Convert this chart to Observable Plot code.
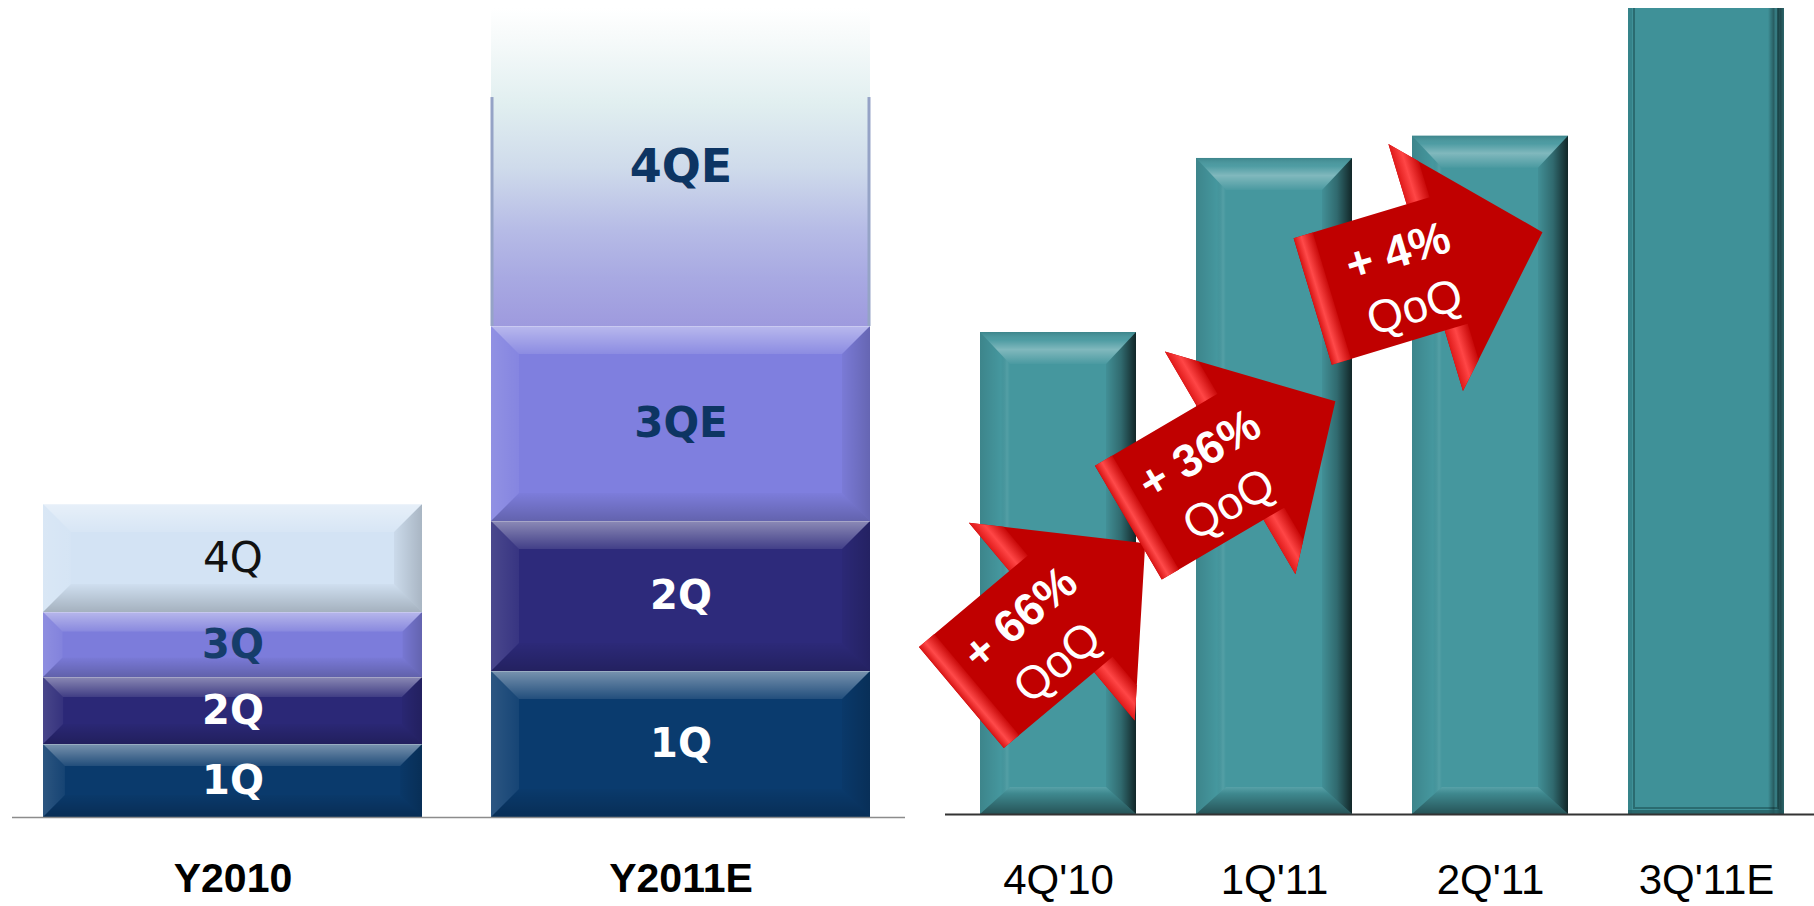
<!DOCTYPE html>
<html>
<head>
<meta charset="utf-8">
<script src="https://cdn.jsdelivr.net/npm/d3@7"></script>
<script src="https://cdn.jsdelivr.net/npm/@observablehq/plot@0.6"></script>
<style>
html, body { margin: 0; padding: 0; background: #fff; }
#wrap { position: relative; width: 1814px; height: 906px; overflow: hidden; }
#left { position: absolute; left: 0; top: 0; }
#right { position: absolute; left: 908px; top: 0; }
</style>
</head>
<body>
<svg width="0" height="0" style="position:absolute">
  <defs>
    <linearGradient id="fade4qe" x1="0" y1="0" x2="0" y2="1">
      <stop offset="0" stop-color="#ffffff"/>
      <stop offset="0.1" stop-color="#f6fafa"/>
      <stop offset="0.3" stop-color="#e1eff0"/>
      <stop offset="0.5" stop-color="#cfdbeb"/>
      <stop offset="0.7" stop-color="#b6bbe6"/>
      <stop offset="0.85" stop-color="#a8a9e2"/>
      <stop offset="1" stop-color="#9e9ade"/>
    </linearGradient>
    <linearGradient id="b-top" x1="0" y1="0" x2="0" y2="1">
      <stop offset="0" stop-color="#fff" stop-opacity="0.45"/>
      <stop offset="1" stop-color="#fff" stop-opacity="0.1"/>
    </linearGradient>
    <linearGradient id="b-bottom" x1="0" y1="0" x2="0" y2="1">
      <stop offset="0" stop-color="#000" stop-opacity="0.02"/>
      <stop offset="1" stop-color="#000" stop-opacity="0.22"/>
    </linearGradient>
    <linearGradient id="b-left" x1="0" y1="0" x2="1" y2="0">
      <stop offset="0" stop-color="#fff" stop-opacity="0.14"/>
      <stop offset="1" stop-color="#fff" stop-opacity="0.05"/>
    </linearGradient>
    <linearGradient id="b-right" x1="0" y1="0" x2="1" y2="0">
      <stop offset="0" stop-color="#000" stop-opacity="0.04"/>
      <stop offset="1" stop-color="#000" stop-opacity="0.2"/>
    </linearGradient>
    <linearGradient id="t-top" x1="0" y1="0" x2="0" y2="1">
      <stop offset="0" stop-color="#000" stop-opacity="0.12"/>
      <stop offset="0.25" stop-color="#fff" stop-opacity="0.05"/>
      <stop offset="0.55" stop-color="#fff" stop-opacity="0.32"/>
      <stop offset="1" stop-color="#fff" stop-opacity="0.03"/>
    </linearGradient>
    <linearGradient id="t-right" x1="0" y1="0" x2="1" y2="0">
      <stop offset="0" stop-color="#000" stop-opacity="0.05"/>
      <stop offset="0.5" stop-color="#000" stop-opacity="0.3"/>
      <stop offset="1" stop-color="#000" stop-opacity="0.75"/>
    </linearGradient>
    <linearGradient id="t-left" x1="0" y1="0" x2="1" y2="0">
      <stop offset="0" stop-color="#000" stop-opacity="0.12"/>
      <stop offset="0.7" stop-color="#000" stop-opacity="0"/>
      <stop offset="0.9" stop-color="#fff" stop-opacity="0.08"/>
      <stop offset="1" stop-color="#fff" stop-opacity="0"/>
    </linearGradient>
    <linearGradient id="t-bottom" x1="0" y1="0" x2="0" y2="1">
      <stop offset="0" stop-color="#fff" stop-opacity="0.1"/>
      <stop offset="0.25" stop-color="#000" stop-opacity="0.1"/>
      <stop offset="1" stop-color="#000" stop-opacity="0.45"/>
    </linearGradient>
    <linearGradient id="t-edge" x1="0" y1="0" x2="1" y2="0">
      <stop offset="0" stop-color="#000" stop-opacity="0"/>
      <stop offset="0.35" stop-color="#000" stop-opacity="0.35"/>
      <stop offset="0.5" stop-color="#000" stop-opacity="0.1"/>
      <stop offset="0.75" stop-color="#000" stop-opacity="0.5"/>
      <stop offset="1" stop-color="#000" stop-opacity="0.3"/>
    </linearGradient>
    <linearGradient id="a-tail" gradientUnits="userSpaceOnUse" x1="-120" y1="0" x2="-98" y2="0">
      <stop offset="0" stop-color="#d81414"/>
      <stop offset="0.35" stop-color="#ff4a4a"/>
      <stop offset="1" stop-color="#c00000"/>
    </linearGradient>
    <linearGradient id="a-head" gradientUnits="userSpaceOnUse" x1="-2" y1="0" x2="24" y2="0">
      <stop offset="0" stop-color="#e01a1a"/>
      <stop offset="0.4" stop-color="#ff4646"/>
      <stop offset="1" stop-color="#c00000"/>
    </linearGradient>
  </defs>
</svg>
<div id="wrap"><div id="left"></div><div id="right"></div></div>
<script>
// ---------- data ----------
const yearCats = ["Y2010", "Y2011E"];
const quarterNames2010 = ["1Q", "2Q", "3Q", "4Q"];
const quarterNames2011 = ["1Q", "2Q", "3QE", "4QE"];
const values2010 = [73, 67, 65, 108];
const values2011 = [146, 150, 195, 318];

const quarterCats = ["4Q'10", "1Q'11", "2Q'11", "3Q'11E"];
const quarterValues = [108, 147, 152, 195];

const qoqTargets = ["4Q'10", "1Q'11", "2Q'11"];
const qoqPct = ["+ 66%", "+ 36%", "+ 4%"];
const qoqSub = ["QoQ", "QoQ", "QoQ"];

// ---------- styles ----------
const segFill = {
  Y2010: ["#0a3a6c", "#2b2877", "#7c7cdb", "#d3e3f4"],
  Y2011E: ["#0a3b6e", "#2d2a7b", "#7f7fdf", "url(#fade4qe)"]
};
const segText = {
  Y2010: ["#ffffff", "#ffffff", "#163d6b", "#111111"],
  Y2011E: ["#ffffff", "#ffffff", "#0d3563", "#0d3563"]
};
const segBold = { Y2010: [true, true, true, false], Y2011E: [true, true, true, true] };
const segFont = { Y2010: [40, 40, 40, 42], Y2011E: [40, 40, 42, 46] };
const segBevel = { Y2010: [true, true, true, true], Y2011E: [true, true, true, false] };
const quarterFill = ["#45979e", "#45979e", "#45979e", "#3f9198"];
const quarterStyle = ["bevel", "bevel", "bevel", "frame"];
const arrowLayout = [
  { angle: -40, fx: 0.47, y: 43.4 },
  { angle: -30.4, fx: 0.23, y: 78.9 },
  { angle: -16.8, fx: 0.10, y: 122.6 }
];

// ---------- derived tables ----------
const leftRows = [];
yearCats.forEach((yr, i) => {
  const vals = i === 0 ? values2010 : values2011;
  const names = i === 0 ? quarterNames2010 : quarterNames2011;
  let acc = 0;
  vals.forEach((v, j) => {
    leftRows.push({
      year: yr, label: names[j], y0: acc, y1: acc + v, mid: acc + v / 2,
      fill: segFill[yr][j], text: segText[yr][j], bold: segBold[yr][j],
      size: segFont[yr][j], bevel: segBevel[yr][j]
    });
    acc += v;
  });
});
const rightRows = quarterCats.map((q, i) => ({ q, v: quarterValues[i], fill: quarterFill[i], style: quarterStyle[i] }));

// ---------- helpers ----------
function poly(g, pts, fill) {
  g.append("polygon").attr("points", pts.map(p => p.join(",")).join(" ")).attr("fill", fill);
}
function drawBevel(g, x0, y0, x1, y1, bt, bs, bb, p) {
  poly(g, [[x0, y0], [x0 + bs, y0 + bt], [x0 + bs, y1 - bb], [x0, y1]], `url(#${p}-left)`);
  poly(g, [[x1, y0], [x1 - bs, y0 + bt], [x1 - bs, y1 - bb], [x1, y1]], `url(#${p}-right)`);
  poly(g, [[x0, y0], [x1, y0], [x1 - bs, y0 + bt], [x0 + bs, y0 + bt]], `url(#${p}-top)`);
  poly(g, [[x0, y1], [x1, y1], [x1 - bs, y1 - bb], [x0 + bs, y1 - bb]], `url(#${p}-bottom)`);
}
function bw(scale) { return scale.bandwidth ? scale.bandwidth() : 0; }

function bevelLeft(index, scales) {
  const g = d3.create("svg:g");
  const w = bw(scales.x);
  for (const r of leftRows) {
    const x0 = scales.x(r.year), x1 = x0 + w;
    const yt = scales.y(r.y1), yb = scales.y(r.y0);
    const h = yb - yt;
    if (r.bevel) {
      const b = Math.min(28, h * 0.3);
      drawBevel(g, x0, yt, x1, yb, b, b, b, "b");
      g.append("line").attr("x1", x0).attr("x2", x1).attr("y1", yt + 0.5).attr("y2", yt + 0.5)
        .attr("stroke", "#ffffff").attr("stroke-opacity", 0.25);
    } else {
      const ys = yb - 0.72 * h;
      g.append("line").attr("x1", x0 + 1).attr("x2", x0 + 1).attr("y1", ys).attr("y2", yb)
        .attr("stroke", "#95a3c6").attr("stroke-width", 3);
      g.append("line").attr("x1", x1 - 1).attr("x2", x1 - 1).attr("y1", ys).attr("y2", yb)
        .attr("stroke", "#95a3c6").attr("stroke-width", 3);
    }
  }
  return g.node();
}

function bevelRight(index, scales, values, dims) {
  const g = d3.create("svg:g");
  const w = bw(scales.x);
  const top = dims.marginTop;
  for (const r of rightRows) {
    const x0 = scales.x(r.q), x1 = x0 + w;
    const yt = Math.max(scales.y(r.v), top), yb = scales.y(0);
    if (r.style === "bevel") {
      drawBevel(g, x0, yt, x1, yb, 32, 30, 27, "t");
    } else {
      g.append("path")
        .attr("d", `M${x0 + 6},${yt} V${yb - 6} H${x1 - 6} V${yt}`)
        .attr("fill", "none").attr("stroke", "#2a6b70").attr("stroke-width", 2);
      g.append("rect").attr("x", x1 - 16).attr("y", yt).attr("width", 16).attr("height", yb - yt)
        .attr("fill", "url(#t-edge)");
      g.append("rect").attr("x", x0).attr("y", yt).attr("width", 4).attr("height", yb - yt)
        .attr("fill", "#2f7a80").attr("fill-opacity", 0.6);
      g.append("rect").attr("x", x0).attr("y", yb - 4).attr("width", w).attr("height", 4)
        .attr("fill", "#22575b").attr("fill-opacity", 0.7);
    }
  }
  return g.node();
}

function arrowsMark(index, scales) {
  const g = d3.create("svg:g");
  const w = bw(scales.x);
  qoqTargets.forEach((t, i) => {
    const L = arrowLayout[i];
    const cx = scales.x(t) + L.fx * w, cy = scales.y(L.y);
    const a = g.append("g").attr("transform", `translate(${cx},${cy}) rotate(${L.angle})`);
    poly(a, [[-120, -66], [-2, -66], [-2, -129], [120, 0], [-2, 129], [-2, 66], [-120, 66]], "#c00000");
    poly(a, [[-120, -66], [-100, -66], [-100, 66], [-120, 66]], "url(#a-tail)");
    poly(a, [[-2, -129], [22, -103.6], [22, -66], [-2, -66]], "url(#a-head)");
    poly(a, [[-2, 129], [22, 103.6], [22, 66], [-2, 66]], "url(#a-head)");
    a.append("text").attr("x", -24).attr("y", -24).attr("text-anchor", "middle")
      .attr("dominant-baseline", "central").attr("fill", "#ffffff").attr("font-weight", "bold")
      .attr("font-size", 46).text(qoqPct[i]);
    a.append("text").attr("x", -24).attr("y", 34).attr("text-anchor", "middle")
      .attr("dominant-baseline", "central").attr("fill", "#ffffff").attr("font-weight", "normal")
      .attr("font-size", 46).text(qoqSub[i]);
  });
  return g.node();
}

// ---------- left chart ----------
const leftText = leftRows.map(r => Plot.text([r], {
  x: "year", y: "mid", text: "label", fill: r.text,
  fontSize: r.size, fontWeight: r.bold ? "bold" : "normal", fontFamily: "DejaVu Sans"
}));

const leftPlot = Plot.plot({
  width: 908, height: 906,
  marginLeft: 12, marginRight: 3, marginTop: 0, marginBottom: 89,
  x: { domain: yearCats, paddingInner: 0.154, paddingOuter: 0.0735, align: 0.47, tickSize: 0, tickPadding: 45, label: null },
  y: { domain: [0, 817], axis: null },
  color: { type: "identity" },
  style: { fontFamily: "'Liberation Sans', Arial, sans-serif", fontSize: "41px", fontWeight: "bold", color: "#000", background: "transparent" },
  marks: [
    Plot.barY(leftRows, { x: "year", y1: "y0", y2: "y1", fill: "fill" }),
    bevelLeft,
    ...leftText,
    Plot.ruleY([0], { stroke: "#8c8c8c", strokeWidth: 1.5 })
  ]
});
document.getElementById("left").appendChild(leftPlot);

// ---------- right chart ----------
const rightPlot = Plot.plot({
  width: 906, height: 906,
  marginLeft: 37, marginRight: 0, marginTop: 8, marginBottom: 92,
  x: { domain: quarterCats, paddingInner: 0.2765, paddingOuter: 0.1406, align: 0.534, tickSize: 0, tickPadding: 50, label: null },
  y: { domain: [0, 180.6], axis: null },
  color: { type: "identity" },
  style: { fontFamily: "'Liberation Sans', Arial, sans-serif", fontSize: "42px", fontWeight: "normal", color: "#000", background: "transparent" },
  marks: [
    Plot.barY(rightRows, { x: "q", y: "v", fill: "fill", clip: true }),
    bevelRight,
    Plot.ruleY([0], { stroke: "#333333", strokeWidth: 2 }),
    arrowsMark
  ]
});
document.getElementById("right").appendChild(rightPlot);
</script>
</body>
</html>
